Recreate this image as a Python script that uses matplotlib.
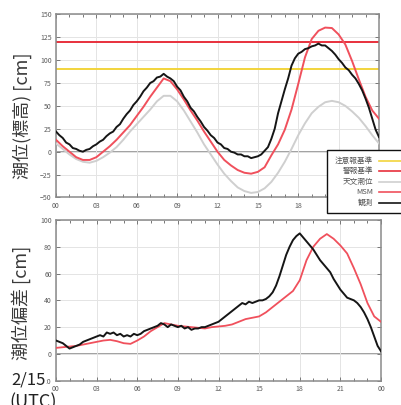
import numpy as np
import matplotlib
matplotlib.use("Agg")
import matplotlib.pyplot as plt
from matplotlib.lines import Line2D
from matplotlib.patches import Rectangle

plt.rcParams['font.family'] = ['Noto Sans CJK JP', 'DejaVu Sans']

# ---- data -------------------------------------------------------------
# observed tide level (cm), every 15 minutes from 00 to 24 UTC
obs_level = [
    22, 18, 15, 10,  8, 4, 3, 1,  0, 2, 3, 6,  8, 11, 13, 17,
    20, 22, 27, 30,  36, 41, 45, 51,  55, 60, 66, 70,  75, 77, 81, 82,
    85, 82, 80, 77,  71, 67, 60, 55,  48, 44, 38, 33,  27, 23, 18, 15,
    10, 8, 4, 3,  0, -1, -3, -3,  -5, -5, -7, -6,  -5, -3, 1, 5,
    14, 25, 42, 55,  68, 80, 94, 102,  107, 109, 112, 113,  115, 116, 118, 116,
    116, 113, 110, 106,  101, 97, 92, 89,  84, 80, 74, 67,  58, 48, 36, 24,
    16]
# MSM forecast tide level (cm), every 30 minutes
msm_level = [
    13, 6, 0, -6, -9, -9, -6, 0, 6, 13, 21, 29, 39, 49, 60, 70,
    80, 77, 68, 57, 45, 34, 22, 11, 0, -9, -15, -20, -23, -24, -22, -17,
    -4, 8, 24, 46, 74, 103, 123, 132, 135.5, 135, 128, 117, 99, 79, 60, 45,
    36]
# astronomical tide (cm), every 30 minutes
astro_level = [
    9, 3, -3, -8, -11, -12, -10, -6, -1, 5, 13, 22, 30, 38, 46, 55,
    61, 61, 55, 45, 33, 21, 8, -3, -14, -24, -32, -39, -43, -45, -44, -40,
    -33, -23, -11, 3, 18, 31, 42, 49, 54, 55.5, 54, 50, 44, 37, 28, 18,
    9]
# observed storm surge (cm), every 15 minutes
obs_surge = [
    10, 9, 8, 6,  4, 5, 6, 7,  9, 10, 11, 12,  13, 14, 13, 16,
    15, 16, 14, 15,  13, 14, 13, 15,  14, 15, 17, 18,  19, 20, 21, 23,
    22, 20, 22, 21,  20, 21, 19, 20,  18, 19, 19, 20,  20, 21, 22, 23,
    24, 26, 28, 30,  32, 34, 36, 38,  37, 39, 38, 39,  40, 40, 41, 43,
    46, 51, 58, 66,  74, 80, 85, 88,  90, 87, 84, 81,  78, 74, 70, 67,
    64, 61, 56, 52,  48, 45, 42, 41,  40, 38, 35, 31,  26, 20, 13, 6,
    2]
# MSM forecast storm surge (cm), every 30 minutes
msm_surge = [
    4.5, 5, 5.5, 6, 7, 8, 9, 10, 10.5, 9.5, 8, 7.5, 10, 13, 17, 20,
    23, 22, 21, 20.5, 20, 19.5, 19, 20, 20.5, 21, 22, 24, 26, 27, 28, 31,
    35, 39, 43, 47, 55, 70, 80, 86, 89.5, 86, 81, 75, 64, 52, 38, 28,
    24]

caution_level = 90    # 注意報基準
warning_level = 120   # 警報基準

hour_ticks = [0, 3, 6, 9, 12, 15, 18, 21, 24]
hour_labels = ["00", "03", "06", "09", "12", "15", "18", "21", "00"]

t15 = np.arange(len(obs_level)) * 0.25
t30 = np.arange(len(msm_level)) * 0.5

# ---- styles -----------------------------------------------------------
c_caution = "#f2d43c"
c_warning = "#e8303c"
c_astro = "#cfcfcf"
c_msm = "#f0505c"
c_obs = "#151515"
c_zero = "#9a9a9a"
c_text = "#5a5a5a"

W, H = 401, 405
fig = plt.figure(figsize=(W / 100, H / 100), dpi=100)
ax1 = fig.add_axes([56 / W, 1 - 197.5 / H, (379 - 56) / W, (197.5 - 14.3) / H])
ax2 = fig.add_axes([56 / W, 1 - 380.7 / H, (381 - 56) / W, (380.7 - 220) / H])


def style_axes(ax, yticks):
    ax.set_xlim(0, 24)
    ax.set_xticks(hour_ticks)
    ax.set_xticklabels(hour_labels)
    ax.set_xticks(np.arange(0, 25, 1), minor=True)
    ax.set_yticks(yticks)
    ax.set_ylim(yticks[0], yticks[-1])
    ax.grid(True, which="major", color="#e4e4e4", lw=0.7, zorder=0)
    ax.tick_params(which="both", direction="in", top=True, right=True,
                   color="#777777", labelsize=5, labelcolor=c_text, width=0.7)
    ax.tick_params(which="major", length=3, pad=3)
    ax.tick_params(which="minor", length=2)
    for s in ax.spines.values():
        s.set_color("#8a8a8a")
        s.set_linewidth(1.1)


# upper panel: tide level
style_axes(ax1, [-50, -25, 0, 25, 50, 75, 100, 125, 150])
ax1.axhline(0, color=c_zero, lw=1.3, zorder=1)
ax1.axhline(caution_level, color=c_caution, lw=1.4, zorder=2)
ax1.axhline(warning_level, color=c_warning, lw=1.4, zorder=2)
ax1.plot(t30, astro_level, color=c_astro, lw=1.4, zorder=3)
ax1.plot(t30, msm_level, color=c_msm, lw=1.4, zorder=4)
ax1.plot(t15, obs_level, color=c_obs, lw=1.4, zorder=5)

# lower panel: storm surge
style_axes(ax2, [-20, 0, 20, 40, 60, 80, 100])
ax2.axhline(0, color=c_zero, lw=1.3, zorder=1)
ax2.plot(t30, msm_surge, color=c_msm, lw=1.3, zorder=4)
ax2.plot(t15, obs_surge, color=c_obs, lw=1.4, zorder=5)

# axis titles
fig.text(22 / W, 1 - 116 / H, "潮位(標高) [cm]", rotation=90, ha="center",
         va="center", fontsize=13, color="#3a3a3a")
fig.text(21 / W, 1 - 303 / H, "潮位偏差 [cm]", rotation=90, ha="center",
         va="center", fontsize=13, color="#3a3a3a")
fig.text(11 / W, 1 - 380 / H, "2/15", ha="left", va="center", fontsize=12,
         color="#222222", zorder=10,
         bbox=dict(facecolor="white", edgecolor="none", pad=0.5))
fig.text(9 / W, 1 - 402 / H, "(UTC)", ha="left", va="center", fontsize=13,
         color="#222222", zorder=10)

# legend box (labels right-aligned, line samples on the right)
fig.add_artist(Rectangle((327 / W, 1 - 213 / H), 90 / W, 63 / H,
                         transform=fig.transFigure, facecolor="white",
                         edgecolor="#111111", lw=1.0, zorder=20))
legend_items = [("注意報基準", c_caution), ("警報基準", c_warning),
                ("天文潮位", c_astro), ("MSM", c_msm), ("観測", c_obs)]
for i, (label, col) in enumerate(legend_items):
    yy = 1 - (160.5 + i * 10.5) / H
    fig.text(373 / W, yy, label, ha="right", va="center", fontsize=5.5,
             color="#555555", zorder=21)
    fig.add_artist(Line2D([379 / W, 402 / W], [yy, yy],
                          transform=fig.transFigure, color=col, lw=1.2,
                          zorder=21))

fig.savefig("out.png", dpi=100)
